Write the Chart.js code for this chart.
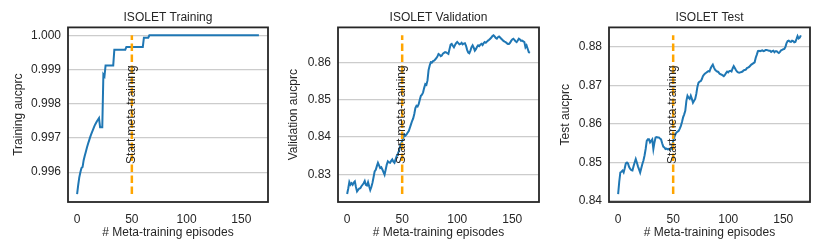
<!DOCTYPE html>
<html>
<head>
<meta charset="utf-8">
<script src="https://cdn.jsdelivr.net/npm/chart.js@4.4.1/dist/chart.umd.min.js"></script>
<style>
  html, body { margin: 0; padding: 0; background: #fff; }
  body { width: 830px; height: 252px; position: relative; overflow: hidden; }
  .panel { position: absolute; top: 0; height: 252px; }
</style>
</head>
<body>
<div class="panel" style="left:0px;width:272px"><canvas id="chartTrain"></canvas></div>
<div class="panel" style="left:270px;width:273px"><canvas id="chartVal"></canvas></div>
<div class="panel" style="left:541px;width:273px"><canvas id="chartTest"></canvas></div>
<script>
// aucprc per meta-training episode (index = episode)
var trainAucprc = [
  0.99536, 0.99562, 0.99585, 0.99600, 0.99612, 0.99615, 0.99635, 0.99648, 0.99660, 0.99672,
  0.99683, 0.99693, 0.99703, 0.99712, 0.99720, 0.99728, 0.99736, 0.99742, 0.99748, 0.99753,
  0.99758, 0.99731, 0.99731, 0.99731, 0.99885, 0.99880, 0.99912, 0.99912, 0.99912, 0.99912,
  0.99912, 0.99912, 0.99912, 0.99912, 0.99958, 0.99958, 0.99958, 0.99958, 0.99958, 0.99958,
  0.99958, 0.99958, 0.99958, 0.99958, 0.99958, 0.99966, 0.99966, 0.99966, 0.99966, 0.99966,
  0.99966, 0.99966, 0.99966, 0.99966, 0.99966, 0.99966, 0.99966, 0.99966, 0.99966, 0.99966,
  0.99966, 0.99993, 0.99993, 0.99993, 0.99993, 0.99993, 1.0, 1.0, 1.0, 1.0,
  1.0, 1.0, 1.0, 1.0, 1.0, 1.0, 1.0, 1.0, 1.0, 1.0,
  1.0, 1.0, 1.0, 1.0, 1.0, 1.0, 1.0, 1.0, 1.0, 1.0,
  1.0, 1.0, 1.0, 1.0, 1.0, 1.0, 1.0, 1.0, 1.0, 1.0,
  1.0, 1.0, 1.0, 1.0, 1.0, 1.0, 1.0, 1.0, 1.0, 1.0,
  1.0, 1.0, 1.0, 1.0, 1.0, 1.0, 1.0, 1.0, 1.0, 1.0,
  1.0, 1.0, 1.0, 1.0, 1.0, 1.0, 1.0, 1.0, 1.0, 1.0,
  1.0, 1.0, 1.0, 1.0, 1.0, 1.0, 1.0, 1.0, 1.0, 1.0,
  1.0, 1.0, 1.0, 1.0, 1.0, 1.0, 1.0, 1.0, 1.0, 1.0,
  1.0, 1.0, 1.0, 1.0, 1.0, 1.0, 1.0, 1.0, 1.0, 1.0,
  1.0, 1.0, 1.0, 1.0, 1.0, 1.0, 1.0
];
var valAucprc = [
  0.8247, 0.8262, 0.8279, 0.8272, 0.8276, 0.8272, 0.8278, 0.8281, 0.8266, 0.8254,
  0.8258, 0.8262, 0.8263, 0.8268, 0.8272, 0.8276, 0.8282, 0.8272, 0.8270, 0.8279,
  0.8268, 0.8258, 0.8266, 0.8277, 0.8292, 0.8308, 0.8312, 0.8322, 0.8331, 0.8324,
  0.8317, 0.8319, 0.8313, 0.8306, 0.8299, 0.8312, 0.8326, 0.8335, 0.8332, 0.8331,
  0.8336, 0.8340, 0.8334, 0.8331, 0.8340, 0.8349, 0.8355, 0.8362, 0.8374, 0.8382,
  0.8389, 0.8398, 0.8407, 0.8404, 0.8407, 0.8412, 0.8416, 0.8425, 0.8434, 0.8443,
  0.8450, 0.8462, 0.8478, 0.8484, 0.8482, 0.8488, 0.8500, 0.8511, 0.8514, 0.8520,
  0.8532, 0.8542, 0.8540, 0.8552, 0.8580, 0.8592, 0.8601, 0.8600, 0.8604, 0.8605,
  0.8608, 0.8612, 0.8616, 0.8623, 0.8621, 0.8617, 0.8619, 0.8624, 0.8626, 0.8628,
  0.8627, 0.8625, 0.8623, 0.8636, 0.8648, 0.8650, 0.8645, 0.8641, 0.8647, 0.8652,
  0.8655, 0.8652, 0.8649, 0.8650, 0.8653, 0.8649, 0.8651, 0.8652, 0.8645, 0.8634,
  0.8627, 0.8625, 0.8632, 0.8641, 0.8646, 0.8640, 0.8632, 0.8636, 0.8642, 0.8646,
  0.8644, 0.8648, 0.8650, 0.8647, 0.8652, 0.8655, 0.8653, 0.8656, 0.8659, 0.8661,
  0.8664, 0.8667, 0.8671, 0.8673, 0.8670, 0.8666, 0.8664, 0.8668, 0.8670, 0.8667,
  0.8664, 0.8661, 0.8658, 0.8656, 0.8655, 0.8652, 0.8650, 0.8650, 0.8653, 0.8658,
  0.8662, 0.8664, 0.8661, 0.8657, 0.8655, 0.8659, 0.8664, 0.8662, 0.8658, 0.8659,
  0.8657, 0.8655, 0.8641, 0.8646, 0.8637, 0.8628, 0.8626
];
var testAucprc = [
  0.8418, 0.8450, 0.8474, 0.8476, 0.8479, 0.8474, 0.8485, 0.8498, 0.8500, 0.8497,
  0.8488, 0.8483, 0.8480, 0.8479, 0.8490, 0.8500, 0.8509, 0.8500, 0.8490, 0.8482,
  0.8474, 0.8485, 0.8496, 0.8505, 0.8518, 0.8535, 0.8556, 0.8560, 0.8560, 0.8552,
  0.8556, 0.8560, 0.8535, 0.8552, 0.8565, 0.8566, 0.8565, 0.8565, 0.8562, 0.8560,
  0.8550, 0.8541, 0.8539, 0.8535, 0.8536, 0.8534, 0.8535, 0.8533, 0.8535, 0.8538,
  0.8556, 0.8565, 0.8573, 0.8578, 0.8580, 0.8582, 0.8588, 0.8595, 0.8605, 0.8617,
  0.8625, 0.8634, 0.8660, 0.8673, 0.8668, 0.8665, 0.8673, 0.8665, 0.8655, 0.8660,
  0.8665, 0.8678, 0.8696, 0.8707, 0.8710, 0.8711, 0.8716, 0.8724, 0.8728, 0.8731,
  0.8733, 0.8735, 0.8737, 0.8736, 0.8744, 0.8750, 0.8754, 0.8747, 0.8741, 0.8738,
  0.8736, 0.8735, 0.8731, 0.8729, 0.8728, 0.8726, 0.8724, 0.8727, 0.8732, 0.8736,
  0.8734, 0.8737, 0.8738, 0.8736, 0.8744, 0.8750, 0.8745, 0.8740, 0.8736, 0.8734,
  0.8733, 0.8734, 0.8735, 0.8736, 0.8739, 0.8740, 0.8741, 0.8745, 0.8746, 0.8748,
  0.8751, 0.8754, 0.8756, 0.8758, 0.8760, 0.8772, 0.8780, 0.8789, 0.8790, 0.8789,
  0.8790, 0.8791, 0.8789, 0.8790, 0.8792, 0.8792, 0.8791, 0.8790, 0.8790, 0.8787,
  0.8789, 0.8790, 0.8786, 0.8789, 0.8789, 0.8786, 0.8784, 0.8787, 0.8791, 0.8792,
  0.8794, 0.8795, 0.8800, 0.8810, 0.8815, 0.8816, 0.8814, 0.8813, 0.8816, 0.8815,
  0.8812, 0.8813, 0.8820, 0.8828, 0.8822, 0.8824, 0.8830
];

var metaStart = 50;
var xTicks = [0, 50, 100, 150];
var trainTicks = [0.996, 0.997, 0.998, 0.999, 1.000];
var valTicks = [0.83, 0.84, 0.85, 0.86];
var testTicks = [0.84, 0.85, 0.86, 0.87, 0.88];

var textColor = "#262626";
var fontFamily = "'Liberation Sans', Arial, sans-serif";
Chart.defaults.font.family = fontFamily;
Chart.defaults.font.size = 12;
Chart.defaults.color = textColor;

// frame round the plot area + rotated note at the meta-training start
var framePlugin = {
  id: "frame",
  afterDatasetsDraw: function (chart) {
    var ctx = chart.ctx;
    var xs = chart.scales.x, ys = chart.scales.y;
    var vals = chart.data.datasets[0].data.map(function (p) { return p.y; });
    var yMid = (ys.getPixelForValue(Math.min.apply(null, vals)) + ys.getPixelForValue(Math.max.apply(null, vals))) / 2;
    ctx.save();
    ctx.translate(xs.getPixelForValue(metaStart), yMid);
    ctx.rotate(-Math.PI / 2);
    ctx.font = "12px " + fontFamily;
    ctx.fillStyle = textColor;
    ctx.textAlign = "center";
    ctx.textBaseline = "middle";
    ctx.fillText("Start meta-training", 0, 0);
    ctx.restore();
  },
  afterDraw: function (chart) {
    var a = chart.chartArea;
    var ctx = chart.ctx;
    ctx.save();
    ctx.strokeStyle = "#262626";
    ctx.lineWidth = 1.8;
    ctx.strokeRect(a.left, a.top, a.right - a.left, a.bottom - a.top);
    ctx.restore();
  }
};

function makeChart(id, title, yTitle, values, ticks, decimals, yTitlePad) {
  var lo = Math.min.apply(null, values), hi = Math.max.apply(null, values);
  var yPad = (hi - lo) * 0.05;
  var xPad = (values.length - 1) * 0.05;
  var points = values.map(function (v, i) { return { x: i, y: v }; });
  return new Chart(document.getElementById(id), {
    type: "line",
    data: {
      datasets: [
        {
          data: points,
          borderColor: "#1f77b4",
          borderWidth: 2,
          pointRadius: 0,
          tension: 0,
          order: 1,
        },
        {
          data: [{ x: metaStart, y: lo }, { x: metaStart, y: hi }],
          borderColor: "#ffa500",
          borderWidth: 2.5,
          borderDash: [7.5, 3.5],
          borderCapStyle: "butt",
          pointRadius: 0,
          order: 0,
        },
      ],
    },
    options: {
      responsive: true,
      maintainAspectRatio: false,
      animation: false,
      layout: { padding: { left: 0, right: 4, top: 0, bottom: 0 } },
      plugins: {
        legend: { display: false },
        tooltip: { enabled: false },
        title: {
          display: true,
          text: title,
          fullSize: false,
          color: textColor,
          font: { size: 12, weight: "normal" },
          padding: { top: 10, bottom: 3 },
        },
      },
      scales: {
        x: {
          type: "linear",
          min: -xPad,
          max: values.length - 1 + xPad,
          grid: { display: false },
          border: { display: false },
          afterBuildTicks: function (axis) {
            axis.ticks = xTicks.map(function (v) { return { value: v }; });
          },
          afterFit: function (axis) { axis.height = 50; },
          ticks: { padding: 2, maxRotation: 0, color: textColor },
          title: {
            display: true,
            text: "# Meta-training episodes",
            color: textColor,
            font: { size: 12 },
            padding: { top: 0, bottom: 12 },
          },
        },
        y: {
          type: "linear",
          min: lo - yPad,
          max: hi + yPad,
          grid: { color: "#cccccc", lineWidth: 1.2, drawTicks: false },
          border: { display: false },
          afterBuildTicks: function (axis) {
            axis.ticks = ticks.map(function (v) { return { value: v }; });
          },
          afterFit: function (axis) { axis.width = 68; },
          ticks: {
            padding: 7,
            color: textColor,
            callback: function (v) { return v.toFixed(decimals); },
          },
          title: {
            display: true,
            text: yTitle,
            color: textColor,
            font: { size: 12 },
            padding: { top: yTitlePad, bottom: 0 },
          },
        },
      },
    },
    plugins: [framePlugin],
  });
}

makeChart("chartTrain", "ISOLET Training", "Training aucprc", trainAucprc, trainTicks, 3, 11);
makeChart("chartVal", "ISOLET Validation", "Validation aucprc", valAucprc, valTicks, 2, 16);
makeChart("chartTest", "ISOLET Test", "Test aucprc", testAucprc, testTicks, 2, 17);
</script>
</body>
</html>
